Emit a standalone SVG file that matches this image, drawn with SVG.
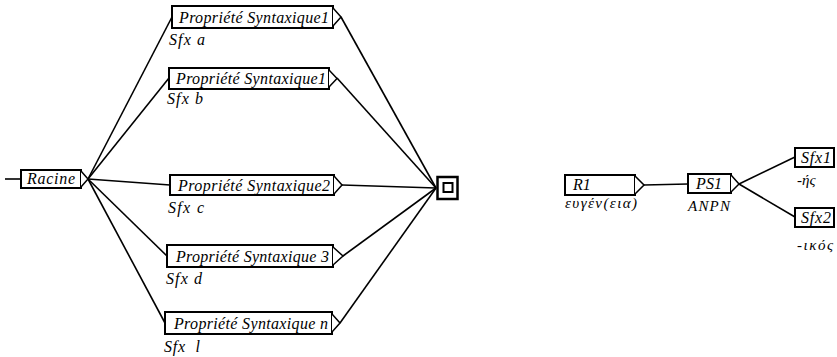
<svg xmlns="http://www.w3.org/2000/svg" width="837" height="357" viewBox="0 0 837 357">
<style>
.bx{fill:#fff;stroke:#000;stroke-width:2}
.tp{fill:#fff;stroke:#000;stroke-width:1.5;stroke-linejoin:miter}
.ln{stroke:#000;stroke-width:1.6;fill:none}
</style>
<rect width="837" height="357" fill="#fff"/>
<g id="connectors">
<line class="ln" x1="5" y1="179" x2="21" y2="179"/>
<line class="ln" x1="88" y1="179" x2="172" y2="17"/>
<line class="ln" x1="88" y1="179" x2="169" y2="78"/>
<line class="ln" x1="88" y1="179" x2="170" y2="185"/>
<line class="ln" x1="88" y1="179" x2="167" y2="256"/>
<line class="ln" x1="88" y1="179" x2="165" y2="323"/>
<line class="ln" x1="341" y1="17" x2="436" y2="188"/>
<line class="ln" x1="337" y1="78" x2="436" y2="188"/>
<line class="ln" x1="342" y1="185" x2="436" y2="188"/>
<line class="ln" x1="343" y1="256" x2="436" y2="188"/>
<line class="ln" x1="340" y1="323" x2="436" y2="188"/>
<line class="ln" x1="644" y1="185" x2="688" y2="184"/>
<line class="ln" x1="739" y1="184" x2="795" y2="157"/>
<line class="ln" x1="739" y1="184" x2="795" y2="217"/>
</g>
<g font-family="Liberation Serif, Times New Roman, serif" font-style="italic" font-size="16" fill="#000">
<g id="racine">
<rect class="bx" x="21" y="170" width="60" height="18"/>
<polyline class="tp" points="81,171 88,179 81,187"/>
<text x="27" y="184" textLength="48">Racine</text>
</g>
<g id="ps1a">
<rect class="bx" x="172" y="6" width="161" height="22"/>
<polyline class="tp" points="333,8 341,17 333,26"/>
<text x="179" y="23" textLength="150">Propriété Syntaxique1</text>
<text x="169" y="45" textLength="36">Sfx a</text>
</g>
<g id="ps1b">
<rect class="bx" x="169" y="68" width="160" height="21"/>
<polyline class="tp" points="329,70 337,78.5 329,87"/>
<text x="176" y="84" textLength="150">Propriété Syntaxique1</text>
<text x="167" y="104" textLength="36">Sfx b</text>
</g>
<g id="ps2">
<rect class="bx" x="170" y="175" width="164" height="20"/>
<polyline class="tp" points="334,176 342,185 334,194"/>
<text x="178" y="191" textLength="152">Propriété Syntaxique2</text>
<text x="168" y="213" textLength="36">Sfx c</text>
</g>
<g id="ps3">
<rect class="bx" x="167" y="245" width="166" height="22"/>
<polyline class="tp" points="333,247 343,256 333,265"/>
<text x="176" y="262" textLength="153">Propriété Syntaxique 3</text>
<text x="166" y="284" textLength="36">Sfx d</text>
</g>
<g id="psn">
<rect class="bx" x="165" y="312" width="167" height="22"/>
<polyline class="tp" points="332,314 340,323 332,332"/>
<text x="174" y="329" textLength="154">Propriété Syntaxique n</text>
<text x="164" y="352" xml:space="preserve" textLength="36">Sfx  l</text>
</g>
<g id="end">
<rect x="437.5" y="177" width="20" height="22" fill="#fff" stroke="#000" stroke-width="2.5"/>
<rect x="443.5" y="183" width="9" height="9" fill="#fff" stroke="#000" stroke-width="2"/>
</g>
<g id="r1">
<rect class="bx" x="565" y="175" width="70" height="20"/>
<polyline class="tp" points="635,176 644,185 635,194"/>
<text x="573" y="190">R1</text>
<text x="565" y="208" font-size="15" textLength="72">ευγέν(εια)</text>
</g>
<g id="ps1">
<rect class="bx" x="688" y="174" width="43" height="19"/>
<polyline class="tp" points="731,175 739,184 731,192"/>
<text x="696" y="189" textLength="26">PS1</text>
<text x="688" y="211" font-size="15" textLength="42">ANPN</text>
</g>
<g id="sfx1">
<rect class="bx" x="795" y="148" width="39" height="19"/>
<text x="801" y="163" textLength="30">Sfx1</text>
<text x="797" y="185" font-size="15">-ής</text>
</g>
<g id="sfx2">
<rect class="bx" x="795" y="208" width="39" height="19"/>
<text x="801" y="223" textLength="30">Sfx2</text>
<text x="797" y="250" font-size="15" textLength="36">-ικός</text>
</g>
</g>
</svg>
